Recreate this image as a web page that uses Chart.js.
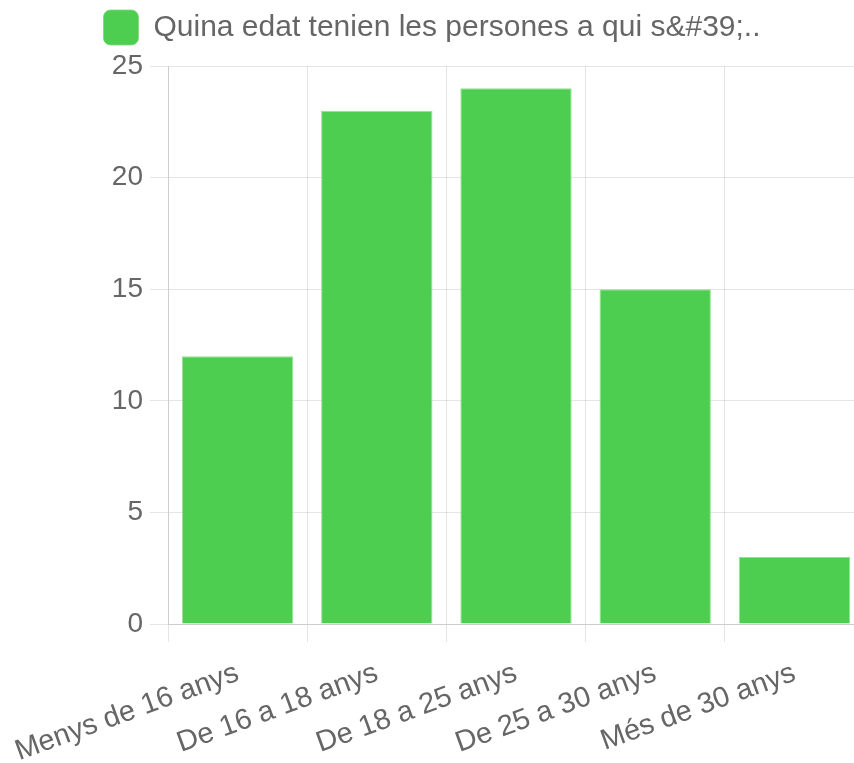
<!DOCTYPE html>
<html>
<head>
<meta charset="utf-8">
<script src="https://cdn.jsdelivr.net/npm/chart.js@4/dist/chart.umd.min.js"></script>
<style>
  html, body { margin: 0; padding: 0; background: #fff; overflow: hidden; }
  #wrap { width: 866px; height: 763px; }
</style>
</head>
<body>
<div id="wrap"><canvas id="c" width="866" height="763"></canvas></div>
<script>
const categories = ["Menys de 16 anys", "De 16 a 18 anys", "De 18 a 25 anys", "De 25 a 30 anys", "Més de 30 anys"];
const seriesLabel = "Quina edat tenien les persones a qui s&#39;..";
const seriesValues = [12, 23, 24, 15, 3];
const yTicks = [0, 5, 10, 15, 20, 25];

const FONT = '"Liberation Sans", Arial, Helvetica, sans-serif';
const GREEN = '#4dce50';

const legendGap = {
  id: 'legendGap',
  beforeInit(chart) {
    const lg = chart.legend;
    if (!lg) return;
    const orig = lg.fit.bind(lg);
    lg.fit = function () { orig(); this.height += 11; };
  }
};

new Chart(document.getElementById('c'), {
  type: 'bar',
  data: {
    labels: categories,
    datasets: [{
      label: seriesLabel,
      data: seriesValues,
      backgroundColor: GREEN,
      borderColor: 'rgba(120,220,120,0.8)',
      borderWidth: 1,
      barPercentage: 1.0,
      categoryPercentage: 0.8
    }]
  },
  plugins: [legendGap],
  options: {
    responsive: false,
    animation: false,
    layout: { padding: { left: 0, right: 2, top: 0, bottom: 0 } },
    plugins: {
      legend: {
        display: true,
        position: 'top',
        labels: {
          boxWidth: 35,
          boxHeight: 35,
          useBorderRadius: true,
          borderRadius: 7,
          color: '#666',
          font: { family: FONT, size: 30 },
          padding: 10
        }
      },
      tooltip: { enabled: false }
    },
    scales: {
      x: {
        grid: { color: 'rgba(0,0,0,0.1)', tickLength: 18, offset: true },
        border: { color: 'rgba(0,0,0,0.1)' },
        ticks: {
          color: '#666',
          font: { family: FONT, size: 29 },
          minRotation: 20,
          maxRotation: 20,
          autoSkip: false,
          padding: 14
        },
        afterFit: (s) => { s.height = 763 - 624; s.paddingLeft = 0; s.paddingRight = 0; }
      },
      y: {
        min: 0,
        max: 25,
        grid: { color: 'rgba(0,0,0,0.1)', tickLength: 18 },
        border: { color: 'rgba(0,0,0,0.1)' },
        ticks: {
          color: '#666',
          font: { family: FONT, size: 28 },
          stepSize: 5,
          padding: 7,
          callback: (v) => yTicks.includes(v) ? String(v) : null
        },
        afterFit: (s) => { s.width = 168; }
      }
    }
  }
});
</script>
</body>
</html>
